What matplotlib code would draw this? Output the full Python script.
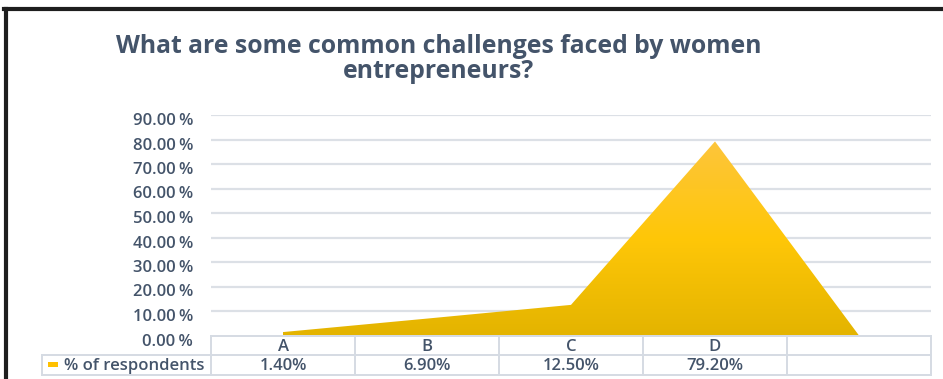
import numpy as np
import matplotlib
matplotlib.use('Agg')
import matplotlib.pyplot as plt
from matplotlib import transforms
from matplotlib.colors import LinearSegmentedColormap
from matplotlib.lines import Line2D
from matplotlib.patches import Rectangle

# survey results (blank fifth column is left empty in the table)
categories = ['A', 'B', 'C', 'D', '']
respondents = [1.40, 6.90, 12.50, 79.20, np.nan]
y_ticks = [0, 10, 20, 30, 40, 50, 60, 70, 80, 90]
series_name = '% of respondents'
title = 'What are some common challenges faced by women\nentrepreneurs?'

TEXT = '#44546A'
GRID = '#DCE0E6'
TABLE = '#D5DBE3'
GOLD = '#FFC000'

plt.rcParams['font.family'] = ['Open Sans', 'DejaVu Sans']

W, H = 943, 379
fig = plt.figure(figsize=(W / 100, H / 100), dpi=100)
fig.patch.set_facecolor('white')

# pixel coordinates (origin top-left) for the surrounding layout
pix = transforms.Affine2D().scale(1 / W, -1 / H).translate(0, 1) + fig.transFigure

x0, x1 = 211, 931
y_zero, y_top = 335.5, 115
ax = fig.add_axes([x0 / W, 1 - y_zero / H, (x1 - x0) / W, (y_zero - y_top) / H])
ax.set_facecolor('white')

x = np.arange(len(categories))
vals = np.nan_to_num(np.array(respondents, dtype=float))

for v in y_ticks[1:]:
    ax.axhline(v, color=GRID, lw=1.6, zorder=0)

# area with a vertical gold gradient
poly = ax.fill_between(x, vals, color='none', lw=0)
cmap = LinearSegmentedColormap.from_list('gold', ['#E4B400', '#FFC708', '#FDC53C'])
grad = np.linspace(0, 1, 256).reshape(-1, 1)
im = ax.imshow(grad, extent=[x[0], x[-1], 0, vals.max()], origin='lower',
               aspect='auto', cmap=cmap, zorder=2)
im.set_clip_path(poly.get_paths()[0], transform=ax.transData)

ax.set_xlim(-0.5, len(categories) - 0.5)
ax.set_ylim(0, 90)
ax.set_xticks([])
ax.set_yticks([])
for s in ax.spines.values():
    s.set_visible(False)

# y axis labels, sitting slightly below their gridlines
ylab = transforms.blended_transform_factory(pix, ax.transData) + \
    transforms.ScaledTranslation(0, -6 / 100, fig.dpi_scale_trans)
for v in y_ticks:
    fig.text(193, v, f'{v:.2f}\u2009%', transform=ylab, ha='right', va='center',
             fontsize=12, fontweight='semibold', color=TEXT)

# data table under the plot
colx = transforms.blended_transform_factory(ax.transData, pix)
r0, r1, r2 = 335.5, 355, 375
for yy in (r1, r2):
    fig.add_artist(Line2D([42, x1], [yy, yy], transform=pix, color=TABLE, lw=1.4))
fig.add_artist(Line2D([x0, x1], [r0, r0], transform=pix, color=TABLE, lw=1.4))
fig.add_artist(Line2D([42, 42], [r1, r2], transform=pix, color=TABLE, lw=1.4))
for edge in np.arange(len(categories) + 1) - 0.5:
    fig.add_artist(Line2D([edge, edge], [r0, r2], transform=colx, color=TABLE, lw=1.4))

for i, (c, v) in enumerate(zip(categories, respondents)):
    fig.text(i, (r0 + r1) / 2 + 1.5, c, transform=colx, ha='center', va='center',
             fontsize=12, fontweight='semibold', color=TEXT)
    if not np.isnan(v):
        fig.text(i, (r1 + r2) / 2 + 1, f'{v:.2f}%', transform=colx, ha='center',
                 va='center', fontsize=12, fontweight='semibold', color=TEXT)

fig.add_artist(Rectangle((48, 362), 10, 5, transform=pix, color=GOLD, lw=0))
fig.text(64, (r1 + r2) / 2 + 1, series_name, transform=pix, ha='left', va='center',
         fontsize=12, fontweight='semibold', color=TEXT)

fig.text(439, 59, title, transform=pix, ha='center', va='center',
         fontsize=17.8, fontweight='bold', color=TEXT, linespacing=1.0)

# dark frame along the top and left edge
fig.add_artist(Line2D([4, W], [9, 9], transform=pix, color='#1E1E1E', lw=3))
fig.add_artist(Line2D([6, 6], [9, H], transform=pix, color='#1E1E1E', lw=3))

fig.savefig('out.png', dpi=100, facecolor='white')
